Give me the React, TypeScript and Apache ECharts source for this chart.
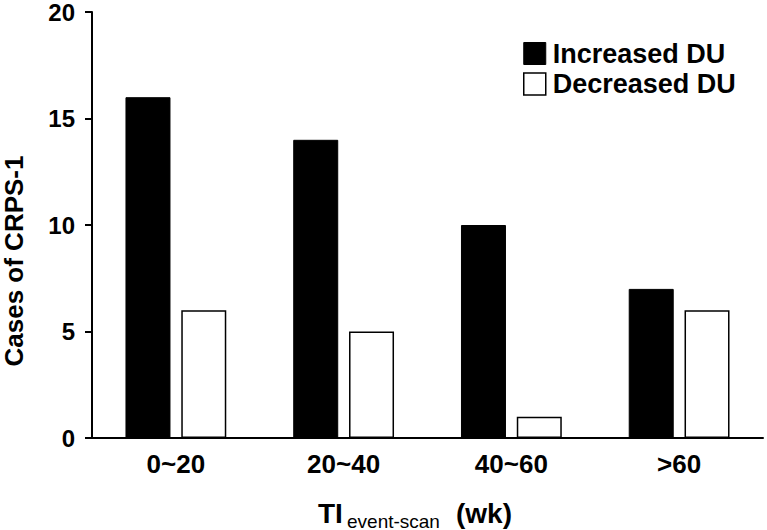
import React, { useEffect, useRef } from "react";
import * as echarts from "echarts";

const categories = ["0~20", "20~40", "40~60", ">60"];
const increasedDU = [16, 14, 10, 7];
const decreasedDU = [6, 5, 1, 6];
const yTicks = { min: 0, max: 20, interval: 5 };
const seriesNames = ["Increased DU", "Decreased DU"];

const FONT = "'Liberation Sans', Arial, Helvetica, sans-serif";

export default function App() {
  const ref = useRef<HTMLDivElement>(null);
  useEffect(() => {
    if (!ref.current) return;
    document.body.style.margin = "0";
    const chart = echarts.init(ref.current, null, { renderer: "svg" });
    chart.setOption({
      animation: false,
      backgroundColor: "#ffffff",
      grid: { left: 92, right: 4, top: 11, bottom: 92, containLabel: false },
      legend: {
        orient: "vertical",
        left: 523,
        top: 40,
        padding: 0,
        itemWidth: 22,
        itemHeight: 22,
        itemGap: 3.5,
        icon: "rect",
        selectedMode: false,
        textStyle: { fontFamily: FONT, fontSize: 27, fontWeight: "bold", color: "#000", padding: [0, 0, 0, 2] },
        data: [
          { name: seriesNames[0], itemStyle: { color: "#000", borderColor: "#000", borderWidth: 1 } },
          { name: seriesNames[1], itemStyle: { color: "#fff", borderColor: "#000", borderWidth: 1.5 } },
        ],
      },
      xAxis: {
        type: "category",
        data: categories,
        boundaryGap: true,
        axisLine: { show: true, lineStyle: { color: "#000", width: 2 } },
        axisTick: { show: false },
        axisLabel: { fontFamily: FONT, fontSize: 26, fontWeight: "bold", color: "#000", margin: 13 },
        splitLine: { show: false },
      },
      yAxis: {
        type: "value",
        min: yTicks.min,
        max: yTicks.max,
        interval: yTicks.interval,
        axisLine: { show: true, lineStyle: { color: "#000", width: 2 } },
        axisTick: { show: true, length: 7, lineStyle: { color: "#000", width: 2 } },
        axisLabel: { fontFamily: FONT, fontSize: 24, fontWeight: "bold", color: "#000", margin: 17 },
        splitLine: { show: false },
      },
      series: [
        {
          name: seriesNames[0],
          type: "bar",
          data: increasedDU,
          barWidth: 45,
          barGap: "24%",
          itemStyle: { color: "#000", borderColor: "#000", borderWidth: 1 },
        },
        {
          name: seriesNames[1],
          type: "bar",
          data: decreasedDU,
          barWidth: 45,
          barGap: "24%",
          itemStyle: { color: "#fff", borderColor: "#000", borderWidth: 1.5 },
        },
      ],
      graphic: [
        {
          type: "text",
          x: 14,
          y: 261,
          rotation: Math.PI / 2,
          style: {
            text: "Cases of CRPS-1",
            fontFamily: FONT,
            fontSize: 26,
            fontWeight: "bold",
            fill: "#000",
            align: "center",
            verticalAlign: "middle",
          },
        },
        {
          type: "text",
          x: 318,
          y: 513,
          style: { text: "TI", fontFamily: FONT, fontSize: 28, fontWeight: "bold", fill: "#000", align: "left", verticalAlign: "middle" },
        },
        {
          type: "text",
          x: 347,
          y: 521,
          style: { text: "event-scan", fontFamily: FONT, fontSize: 19, fontWeight: "normal", fill: "#000", align: "left", verticalAlign: "middle" },
        },
        {
          type: "text",
          x: 456,
          y: 513,
          style: { text: "(wk)", fontFamily: FONT, fontSize: 28, fontWeight: "bold", fill: "#000", align: "left", verticalAlign: "middle" },
        },
      ],
    });
    return () => chart.dispose();
  }, []);
  return <div ref={ref} style={{ width: 767, height: 530, position: "fixed", left: 0, top: 0 }} />;
}
